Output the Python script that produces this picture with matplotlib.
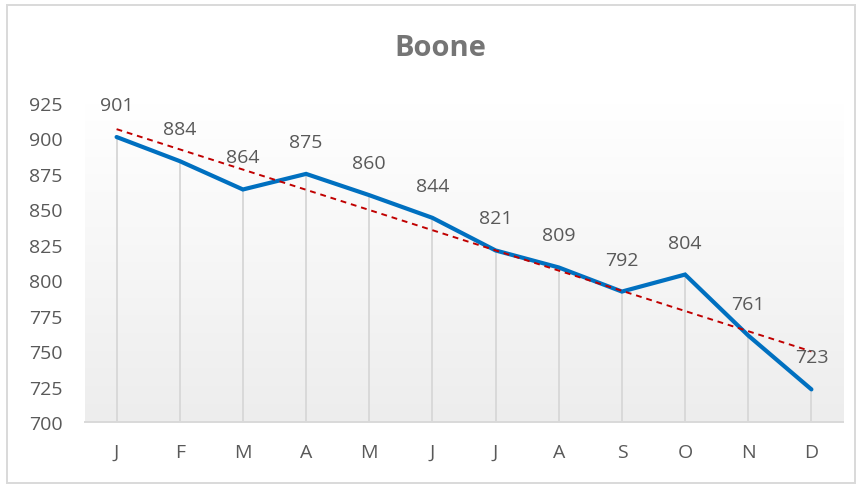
import numpy as np
import matplotlib.pyplot as plt
from matplotlib.patches import Rectangle
from matplotlib.colors import LinearSegmentedColormap

plt.rcParams['font.family'] = ['Open Sans', 'DejaVu Sans']

# 数据
months = ['J', 'F', 'M', 'A', 'M', 'J', 'J', 'A', 'S', 'O', 'N', 'D']
values = [901, 884, 864, 875, 860, 844, 821, 809, 792, 804, 761, 723]
y_ticks = [700, 725, 750, 775, 800, 825, 850, 875, 900, 925]
title = 'Boone'

text_grey = '#595959'

fig = plt.figure(figsize=(8.63, 4.85), dpi=100)
ax = fig.add_axes([85 / 863, 62 / 485, 758 / 863, 319 / 485])

x = np.arange(len(values))
ax.set_xlim(-0.5, len(values) - 0.5)
ax.set_ylim(y_ticks[0], y_ticks[-1])

# 渐变背景：上白下浅灰
grad = np.linspace(1.0, 0.0, 256).reshape(-1, 1)
bg_cmap = LinearSegmentedColormap.from_list('bg', ['#EDEDED', '#FFFFFF'])
ax.imshow(grad, extent=[-0.5, len(values) - 0.5, y_ticks[0], y_ticks[-1]],
          aspect='auto', cmap=bg_cmap, zorder=0)

# 垂直线
ax.vlines(x, y_ticks[0], values, color='#D9D9D9', linewidth=1.4, zorder=1)

# 主折线
ax.plot(x, values, color='#0070C0', linewidth=3.0, solid_capstyle='round',
        solid_joinstyle='miter', zorder=3)

# 线性趋势线
k, b = np.polyfit(x, values, 1)
ax.plot(x, k * x + b, color='#C00000', linestyle=(0, (3, 2.5)), linewidth=1.4, zorder=4)

# 数据标签
for xi, v in zip(x, values):
    ax.annotate(str(v), (xi, v), xytext=(0, 32), textcoords='offset pixels',
                ha='center', va='center', fontsize=14, color=text_grey, zorder=5)

ax.set_xticks(x)
ax.set_xticklabels(months)
ax.set_yticks(y_ticks)
ax.tick_params(axis='both', length=0, labelsize=14, labelcolor=text_grey)
ax.tick_params(axis='x', pad=15)
ax.tick_params(axis='y', pad=16)

for side in ['top', 'left', 'right']:
    ax.spines[side].set_visible(False)
ax.spines['bottom'].set_color('#D9D9D9')
ax.spines['bottom'].set_linewidth(1.4)
ax.spines['bottom'].set_zorder(2)

fig.text(440 / 863, 1 - 48 / 485, title, ha='center', va='center',
         fontsize=21, fontweight='bold', color='#757575')

# 图表外框
fig.patches.append(Rectangle((7 / 863, 1 / 485), 848 / 863, 478 / 485,
                             transform=fig.transFigure, fill=False,
                             edgecolor='#D9D9D9', linewidth=1.4))

fig.savefig('out.png', dpi=100)
